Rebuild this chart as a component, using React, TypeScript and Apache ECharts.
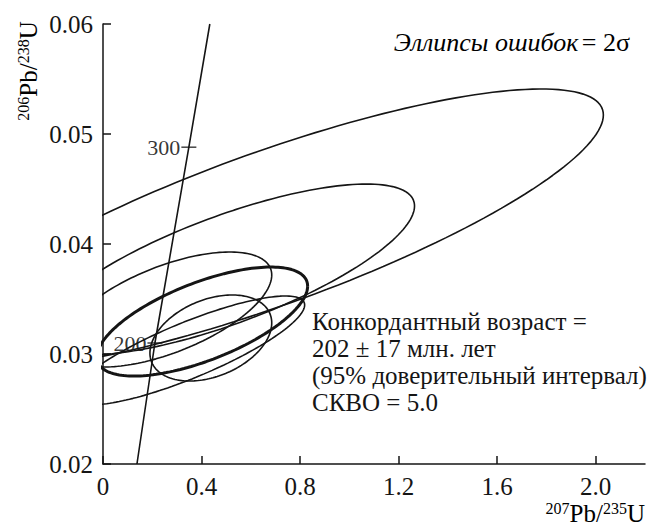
import React, { useEffect, useRef } from "react";
import * as echarts from "echarts";

// Axis ticks
const xTicks = [0, 0.4, 0.8, 1.2, 1.6, 2.0];
const yTicks = [0.02, 0.03, 0.04, 0.05, 0.06];

// Error ellipses (2 sigma): centre, half-extent in x and y, correlation
const ellCx = [0.673, 0.505, 0.2594, 0.3445, 0.4377];
const ellCy = [0.04136, 0.03768, 0.034045, 0.030318, 0.031455];
const ellSx = [1.358, 0.7595, 0.4255, 0.474, 0.2472];
const ellSy = [0.01273, 0.00777, 0.005227, 0.004955, 0.00391];
const ellRho = [0.814, 0.743, 0.6, 0.835, 0.35];

// Bold ellipse
const boldCx = [0.403];
const boldCy = [0.03295];
const boldSx = [0.4276];
const boldSy = [0.004955];
const boldRho = [0.65];

// Concordia curve
const concordiaX = [0.1378, 0.2107, 0.3485, 0.4336];
const concordiaY = [0.02, 0.031, 0.0488, 0.06];

// Age marks on the concordia
const ageLabels = ["200", "300"];
const ageX = [0.2107, 0.3485];
const ageY = [0.031, 0.0488];

const noteLines = [
  "Конкордантный возраст =",
  "202 ± 17 млн. лет",
  "(95% доверительный интервал)",
  "СКВО = 5.0",
];

const FONT = "Liberation Serif";
const INK = "#151515";

function ellipse(cx: number, cy: number, sx: number, sy: number, r: number) {
  const pts: number[][] = [];
  const k = Math.sqrt(1 - r * r);
  for (let d = 0; d <= 360; d += 2) {
    const t = (d * Math.PI) / 180;
    pts.push([cx + sx * Math.cos(t), cy + sy * (r * Math.cos(t) + k * Math.sin(t))]);
  }
  return pts;
}

export default function App() {
  const ref = useRef<HTMLDivElement>(null);
  useEffect(() => {
    document.body.style.margin = "0";
    const chart = echarts.init(ref.current!, undefined, { renderer: "svg" });
    const series: any[] = [];
    ellCx.forEach((_, i) => {
      series.push({
        type: "line",
        data: ellipse(ellCx[i], ellCy[i], ellSx[i], ellSy[i], ellRho[i]),
        showSymbol: false,
        clip: true,
        lineStyle: { color: INK, width: 1.6 },
        silent: true,
      });
    });
    boldCx.forEach((_, i) => {
      series.push({
        type: "line",
        data: ellipse(boldCx[i], boldCy[i], boldSx[i], boldSy[i], boldRho[i]),
        showSymbol: false,
        clip: false,
        lineStyle: { color: INK, width: 3 },
        silent: true,
      });
    });
    series.push({
      type: "line",
      data: concordiaX.map((x, i) => [x, concordiaY[i]]),
      showSymbol: false,
      clip: true,
      lineStyle: { color: INK, width: 1.6 },
      silent: true,
    });
    series.push({
      type: "scatter",
      data: ageX.map((x, i) => ({ value: [x, ageY[i]], name: ageLabels[i] })),
      symbol: "rect",
      symbolSize: [15, 1.5],
      itemStyle: { color: INK },
      label: {
        show: true,
        position: "left",
        distance: 1,
        formatter: (p: any) => p.name,
        fontFamily: FONT,
        fontSize: 22,
        color: "#000",
        textBorderWidth: 0,
      },
      silent: true,
    });

    const rich = {
      s: { fontFamily: FONT, fontSize: 16, color: INK, verticalAlign: "top", lineHeight: 26 },
      m: { fontFamily: FONT, fontSize: 25, color: INK, verticalAlign: "bottom", lineHeight: 26 },
    };

    chart.setOption({
      animation: false,
      backgroundColor: "#ffffff",
      textStyle: { fontFamily: FONT },
      grid: { left: 103, right: 3, top: 24, bottom: 62, containLabel: false },
      xAxis: {
        type: "value",
        min: 0,
        max: 2.2,
        interval: 0.4,
        axisLine: { onZero: false, lineStyle: { color: INK, width: 1.5 } },
        axisTick: { inside: true, length: 8, customValues: xTicks, lineStyle: { color: INK, width: 1.5 } },
        axisLabel: {
          customValues: xTicks,
          margin: 10,
          fontFamily: FONT,
          fontSize: 25,
          lineHeight: 25,
          color: INK,
          formatter: (v: number) => (v === 0 ? "0" : v.toFixed(1)),
        },
        splitLine: { show: false },
      },
      yAxis: {
        type: "value",
        min: 0.02,
        max: 0.06,
        interval: 0.01,
        axisLine: { show: true, onZero: false, lineStyle: { color: INK, width: 1.5 } },
        axisTick: { show: true, inside: true, length: 8, customValues: yTicks, lineStyle: { color: INK, width: 1.5 } },
        axisLabel: {
          customValues: yTicks,
          margin: 10,
          fontFamily: FONT,
          fontSize: 25,
          color: INK,
          formatter: (v: number) => v.toFixed(2),
        },
        splitLine: { show: false },
      },
      graphic: [
        {
          type: "text",
          x: 28,
          y: 71,
          rotation: Math.PI / 2,
          style: {
            text: "{s|206}{m|Pb/}{s|238}{m|U}",
            rich,
            align: "center",
            verticalAlign: "middle",
          },
        },
        {
          type: "text",
          x: 645,
          y: 513,
          style: {
            text: "{s|207}{m|Pb/}{s|235}{m|U}",
            rich,
            align: "right",
            verticalAlign: "middle",
          },
        },
        {
          type: "text",
          x: 630,
          y: 42,
          style: {
            text: "{i|Эллипсы ошибок} {n|= 2σ}",
            rich: {
              i: { fontFamily: FONT, fontSize: 26, fontStyle: "italic", color: INK },
              n: { fontFamily: FONT, fontSize: 26, color: INK },
            },
            align: "right",
            verticalAlign: "middle",
          },
        },
        {
          type: "text",
          x: 312,
          y: 308,
          style: {
            text: noteLines.join("\n"),
            fontFamily: FONT,
            fontSize: 25,
            lineHeight: 27,
            fill: INK,
            align: "left",
            verticalAlign: "top",
          },
        },
      ],
      series,
    });
    return () => chart.dispose();
  }, []);
  return <div ref={ref} style={{ width: 648, height: 526 }} />;
}
